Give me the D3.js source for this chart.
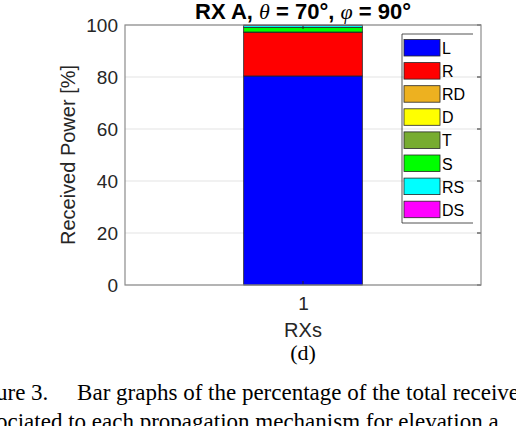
<!DOCTYPE html>
<html>
<head>
<meta charset="utf-8">
<script src="https://cdn.jsdelivr.net/npm/d3@7"></script>
<style>
  body { margin: 0; background: #fff; }
  svg { display: block; }
</style>
</head>
<body>
<div id="chart"></div>
<script>
// data
var rxs = ["1"];
var mechanisms = ["L", "R", "RD", "D", "T", "S", "RS", "DS"];
var colors = ["#0000ff", "#ff0000", "#edb120", "#ffff00", "#77ac30", "#00ff00", "#00ffff", "#ff00ff"];
var power = [80.4, 16.8, 0.1, 0.0, 0.0, 1.8, 0.7, 0.2];
var yTicks = [0, 20, 40, 60, 80, 100];

var W = 516, H = 426;
// axes box (window.top is taken, so use own names)
var axL = 125, axR = 481, axT = 25, axB = 285;
var sans = "Liberation Sans, Arial, sans-serif";

var svg = d3.select("#chart").append("svg")
    .attr("width", W)
    .attr("height", H);

var x = d3.scaleLinear().domain([-0.2, 2.2]).range([axL, axR]);
var y = d3.scaleLinear().domain([0, 100]).range([axB, axT]);

// table for the stack
var row = { rx: rxs[0] };
mechanisms.forEach(function (m, i) { row[m] = power[i]; });
var series = d3.stack().keys(mechanisms)([row]);

// grid lines
svg.append("g")
    .selectAll("line")
    .data(yTicks)
    .enter().append("line")
    .attr("x1", axL).attr("x2", axR)
    .attr("y1", d => y(d)).attr("y2", d => y(d))
    .attr("stroke", "#e3e3e3")
    .attr("stroke-width", 1);

// bars
svg.append("g")
    .selectAll("rect")
    .data(series)
    .enter().append("rect")
    .attr("x", x(+rxs[0] - 0.4))
    .attr("width", x(+rxs[0] + 0.4) - x(+rxs[0] - 0.4))
    .attr("y", d => y(d[0][1]))
    .attr("height", d => y(d[0][0]) - y(d[0][1]))
    .attr("fill", (d, i) => colors[i])
    .attr("stroke", "#262626")
    .attr("stroke-width", 0.8);

// axes
var yAxis = d3.axisLeft(y).tickValues(yTicks).tickSize(0).tickPadding(7);
var gy = svg.append("g")
    .attr("transform", "translate(" + axL + ",0)")
    .call(yAxis);
gy.select(".domain").remove();
gy.selectAll("text")
    .attr("font-family", sans)
    .attr("font-size", 19)
    .attr("fill", "#262626");

var xAxis = d3.axisBottom(x).tickValues([1]).tickFormat(d3.format("d")).tickSize(0).tickPadding(12);
var gx = svg.append("g")
    .attr("transform", "translate(0," + axB + ")")
    .call(xAxis);
gx.select(".domain").remove();
gx.selectAll("text")
    .attr("font-family", sans)
    .attr("font-size", 19)
    .attr("fill", "#262626");

// tick marks inside the box
var ticks = svg.append("g").attr("stroke", "#262626").attr("stroke-width", 1);
yTicks.forEach(function (t) {
    ticks.append("line").attr("x1", axR - 4).attr("x2", axR).attr("y1", y(t)).attr("y2", y(t));
});
ticks.append("line").attr("x1", x(1)).attr("x2", x(1)).attr("y1", axT).attr("y2", axT + 4);
ticks.append("line").attr("x1", x(1)).attr("x2", x(1)).attr("y1", axB).attr("y2", axB - 4);

// axes box
svg.append("rect")
    .attr("x", axL).attr("y", axT)
    .attr("width", axR - axL).attr("height", axB - axT)
    .attr("fill", "none")
    .attr("stroke", "#8c8c8c")
    .attr("stroke-width", 1.2);

// title
var title = svg.append("text")
    .attr("x", (axL + axR) / 2)
    .attr("y", 19)
    .attr("text-anchor", "middle")
    .attr("font-family", sans)
    .attr("font-size", 22)
    .attr("font-weight", "bold")
    .attr("fill", "#000");
title.append("tspan").text("RX A, ");
title.append("tspan").attr("font-family", "Liberation Serif, serif").attr("font-style", "italic").attr("font-weight", "normal").text("θ");
title.append("tspan").text(" = 70°, ");
title.append("tspan").attr("font-family", "Liberation Serif, serif").attr("font-style", "italic").attr("font-weight", "normal").text("φ");
title.append("tspan").text(" = 90°");

// axis labels
svg.append("text")
    .attr("transform", "translate(75," + (axT + axB) / 2 + ") rotate(-90)")
    .attr("text-anchor", "middle")
    .attr("font-family", sans)
    .attr("font-size", 20)
    .attr("fill", "#262626")
    .text("Received Power [%]");

svg.append("text")
    .attr("x", (axL + axR) / 2)
    .attr("y", 337)
    .attr("text-anchor", "middle")
    .attr("font-family", sans)
    .attr("font-size", 20)
    .attr("fill", "#262626")
    .text("RXs");

// legend
var lg = svg.append("g");
lg.append("path")
    .attr("d", "M473,34 H402 V223 H473")
    .attr("fill", "none")
    .attr("stroke", "#262626")
    .attr("stroke-width", 0.8);
var items = lg.selectAll("g.item")
    .data(mechanisms)
    .enter().append("g")
    .attr("class", "item")
    .attr("transform", (d, i) => "translate(404," + (39.5 + i * 23.1) + ")");
items.append("rect")
    .attr("width", 36).attr("height", 16.5)
    .attr("fill", (d, i) => colors[i])
    .attr("stroke", "#262626")
    .attr("stroke-width", 0.8);
items.append("text")
    .attr("x", 38).attr("y", 14.5)
    .attr("font-family", sans)
    .attr("font-size", 16)
    .attr("fill", "#000")
    .text(d => d);

// caption
var cap = svg.append("g")
    .attr("font-family", "Liberation Serif, Times New Roman, serif")
    .attr("font-size", 23)
    .attr("fill", "#000");
cap.append("text").attr("x", (axL + axR) / 2).attr("y", 360).attr("font-size", 22).attr("text-anchor", "middle").text("(d)");
cap.append("text").attr("x", -4).attr("y", 400).attr("xml:space", "preserve").text("ure 3.     Bar graphs of the percentage of the total receive");
cap.append("text").attr("x", -4).attr("y", 429).text("ociated to each propagation mechanism for elevation a");
</script>
</body>
</html>
